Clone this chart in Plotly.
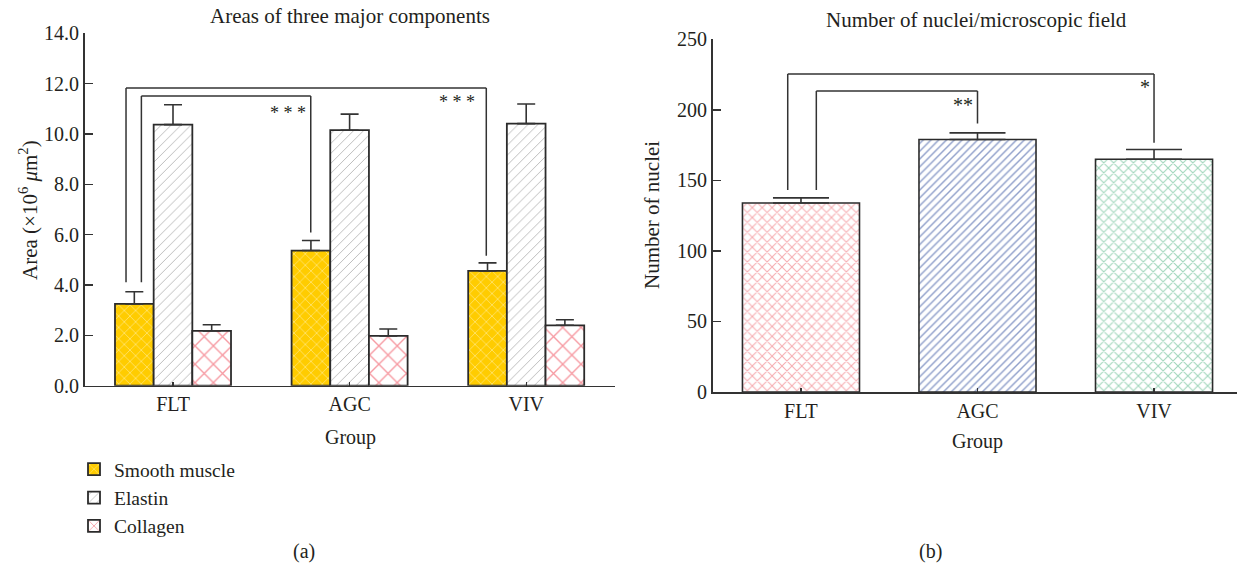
import plotly.graph_objects as go

# ---------------- data ----------------
groups = ["FLT", "AGC", "VIV"]

smooth_muscle = [3.25, 5.37, 4.56]
smooth_muscle_err = [0.48, 0.40, 0.32]
elastin = [10.37, 10.15, 10.41]
elastin_err = [0.79, 0.64, 0.78]
collagen = [2.18, 1.98, 2.40]
collagen_err = [0.24, 0.27, 0.22]

nuclei = [134, 179, 165]
nuclei_err = [3.6, 4.7, 6.9]

left_ticks = [0, 2, 4, 6, 8, 10, 12, 14]
right_ticks = [0, 50, 100, 150, 200, 250]

# significance brackets (category-index x, data y)
brackets_a_x0 = [-0.266, -0.179]
brackets_a_x1 = [1.774, 0.780]
brackets_a_top = [11.83, 11.51]
brackets_a_ybot0 = [4.11, 4.11]
brackets_a_ybot1 = [5.16, 6.09]
brackets_a_label = ["* * *", "* * *"]
brackets_a_lx = [1.606, 0.651]
brackets_a_ly = [11.28, 10.84]

brackets_b_x0 = [-0.075, 0.087]
brackets_b_x1 = [2.0, 1.0]
brackets_b_top = [225.4, 213.3]
brackets_b_ybot0 = [143.2, 143.2]
brackets_b_ybot1 = [176.7, 190.4]
brackets_b_label = ["*", "**"]
brackets_b_lx = [1.946, 0.92]
brackets_b_ly = [216.0, 203.5]

# ---------------- style ----------------
FONT = "Liberation Serif"
TXT = "#231F20"
AX = "#333333"
W, H = 1237, 571

fig = go.Figure()

edge = dict(color="#2b2b2b", width=1.8)

fig.add_trace(go.Bar(
    x=groups, y=smooth_muscle, name="Smooth muscle",
    marker=dict(color="#FFCC00", line=edge,
                pattern=dict(shape="x", fgcolor="#FFF6C8", size=8, solidity=0.22, fillmode="overlay")),
    error_y=dict(type="data", array=smooth_muscle_err, arrayminus=[0, 0, 0], symmetric=False,
                 color=AX, thickness=1.6, width=9),
    xaxis="x", yaxis="y"))
fig.add_trace(go.Bar(
    x=groups, y=elastin, name="Elastin",
    marker=dict(color="white", line=edge,
                pattern=dict(shape="/", fgcolor="#444444", size=7, solidity=0.1, fillmode="overlay")),
    error_y=dict(type="data", array=elastin_err, arrayminus=[0, 0, 0], symmetric=False,
                 color=AX, thickness=1.6, width=9),
    xaxis="x", yaxis="y"))
fig.add_trace(go.Bar(
    x=groups, y=collagen, name="Collagen",
    marker=dict(color="white", line=edge,
                pattern=dict(shape="x", fgcolor="#EE3645", size=13, solidity=0.2, fillmode="overlay")),
    error_y=dict(type="data", array=collagen_err, arrayminus=[0, 0, 0], symmetric=False,
                 color=AX, thickness=1.6, width=9),
    xaxis="x", yaxis="y"))

fig.add_trace(go.Bar(
    x=groups, y=nuclei, showlegend=False, width=0.663,
    marker=dict(color="white", line=dict(color="#2b2b2b", width=1.6),
                pattern=dict(shape=["x", "/", "x"],
                             fgcolor=["#EC5A63", "#1F3F95", "#45AE7A"],
                             size=[7, 5.5, 7], solidity=[0.28, 0.26, 0.3], fillmode="overlay")),
    error_y=dict(type="data", array=nuclei_err, arrayminus=[0, 0, 0], symmetric=False,
                 color=AX, thickness=1.6, width=28),
    xaxis="x2", yaxis="y2"))

# domains from pixel positions
def px_x(p):
    return p / W

def px_y(p):
    return 1 - p / H

axis_common = dict(showgrid=False, zeroline=False, showline=True, linecolor=AX, linewidth=1.6,
                   tickfont=dict(family=FONT, size=20, color=TXT), ticks="inside", tickcolor=AX,
                   tickwidth=1.4, automargin=False)

fig.update_layout(
    template="none",
    width=W, height=H, margin=dict(l=0, r=0, t=0, b=0, pad=0), autosize=False,
    paper_bgcolor="white", plot_bgcolor="white",
    barmode="group", bargap=0.343, bargroupgap=0,
    font=dict(family=FONT, size=20, color=TXT),
    xaxis=dict(domain=[px_x(84.7), px_x(614.5)], range=[-0.5, 2.5], anchor="y",
               ticklen=4, **axis_common),
    yaxis=dict(domain=[px_y(385.7), px_y(33.3)], range=[0, 14], anchor="x",
               tickvals=left_ticks, tickformat=".1f", ticklen=8, **axis_common),
    xaxis2=dict(domain=[px_x(712.7), 1.0], range=[-0.5, 2.47], anchor="y2",
                ticklen=4, **axis_common),
    yaxis2=dict(domain=[px_y(392.0), px_y(39.3)], range=[0, 250], anchor="x2",
                tickvals=right_ticks, ticklen=8, **axis_common),
    legend=dict(x=px_x(74), y=px_y(450), xanchor="left", yanchor="top",
                font=dict(family=FONT, size=19.5, color=TXT), bgcolor="rgba(0,0,0,0)",
                tracegroupgap=0, itemwidth=30),
    showlegend=True,
    hovermode=False,
)

shapes = []
annotations = []
for i in range(len(brackets_a_x0)):
    ln = dict(color=AX, width=1.5)
    shapes.append(dict(type="line", xref="x", yref="y", x0=brackets_a_x0[i], x1=brackets_a_x0[i],
                       y0=brackets_a_ybot0[i], y1=brackets_a_top[i], line=ln))
    shapes.append(dict(type="line", xref="x", yref="y", x0=brackets_a_x0[i], x1=brackets_a_x1[i],
                       y0=brackets_a_top[i], y1=brackets_a_top[i], line=ln))
    shapes.append(dict(type="line", xref="x", yref="y", x0=brackets_a_x1[i], x1=brackets_a_x1[i],
                       y0=brackets_a_top[i], y1=brackets_a_ybot1[i], line=ln))
    annotations.append(dict(xref="x", yref="y", x=brackets_a_lx[i], y=brackets_a_ly[i],
                            text=brackets_a_label[i], showarrow=False,
                            font=dict(family=FONT, size=18, color=TXT)))
for i in range(len(brackets_b_x0)):
    ln = dict(color=AX, width=1.5)
    shapes.append(dict(type="line", xref="x2", yref="y2", x0=brackets_b_x0[i], x1=brackets_b_x0[i],
                       y0=brackets_b_ybot0[i], y1=brackets_b_top[i], line=ln))
    shapes.append(dict(type="line", xref="x2", yref="y2", x0=brackets_b_x0[i], x1=brackets_b_x1[i],
                       y0=brackets_b_top[i], y1=brackets_b_top[i], line=ln))
    shapes.append(dict(type="line", xref="x2", yref="y2", x0=brackets_b_x1[i], x1=brackets_b_x1[i],
                       y0=brackets_b_top[i], y1=brackets_b_ybot1[i], line=ln))
    annotations.append(dict(xref="x2", yref="y2", x=brackets_b_lx[i], y=brackets_b_ly[i],
                            text=brackets_b_label[i], showarrow=False,
                            font=dict(family=FONT, size=20, color=TXT)))

def paper_text(text, x, y, size=20, angle=0):
    annotations.append(dict(xref="paper", yref="paper", x=px_x(x), y=px_y(y), text=text,
                            showarrow=False, textangle=angle, xanchor="center", yanchor="middle",
                            font=dict(family=FONT, size=size, color=TXT)))

paper_text("Areas of three major components", 350, 16, size=21)
paper_text("Number of nuclei/microscopic field", 976, 20, size=21)
paper_text("Area (×10<sup>6</sup> <i>μ</i>m<sup>2</sup>)", 28, 210, size=21, angle=-90)
paper_text("Number of nuclei", 652, 215, size=21, angle=-90)
paper_text("Group", 350, 437)
paper_text("Group", 977, 441)
paper_text("(a)", 304, 551)
paper_text("(b)", 930, 551)

fig.update_layout(shapes=shapes, annotations=annotations)

fig.write_html("out.html", config={"displayModeBar": False, "staticPlot": True},
               post_script="document.body.style.margin='0';document.body.style.overflow='hidden';")
